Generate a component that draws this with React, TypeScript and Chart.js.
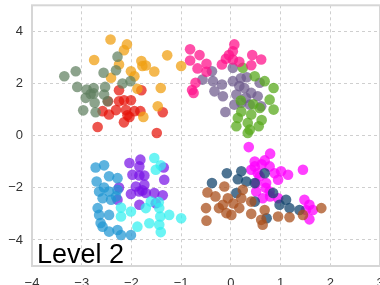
import React, { useEffect, useRef } from "react";
import { Chart, registerables } from "chart.js";

Chart.register(...registerables);

type P = [number, number];

const xTicks = [-4, -3, -2, -1, 0, 1, 2, 3];
const yTicks = [-4, -2, 0, 2, 4];
const panelLabel = "Level 2";

const grayGreenPts: P[] = [
  [-3.35, 2.28], [-3.12, 2.47], [-2.28, 3.03], [-2.31, 2.51], [-2.56, 2.41], [-2.02, 2.09],
  [-2.18, 2.0], [-3.09, 1.87], [-2.9, 1.77], [-2.76, 1.83], [-2.53, 1.87], [-2.92, 1.45],
  [-2.76, 1.62], [-2.55, 1.58], [-2.74, 1.26], [-2.48, 1.32], [-2.97, 0.97], [-2.72, 0.9],
  [-2.82, 1.6],
];
const orangePts: P[] = [
  [-2.42, 3.69], [-2.09, 3.5], [-2.15, 3.28], [-2.75, 2.9], [-2.25, 2.73], [-1.8, 2.86],
  [-1.78, 2.67], [-1.71, 2.69], [-1.28, 3.08], [-1.54, 2.46], [-2.01, 2.47], [-1.94, 2.28],
  [-2.41, 2.22], [-1.41, 1.83], [-1.88, 1.8], [-1.47, 1.13], [-1.76, 0.72], [-1.0, 2.67],
];
const redPts: P[] = [
  [-2.25, 1.74], [-1.8, 1.74], [-2.47, 1.32], [-2.25, 1.32], [-2.15, 1.36], [-2.01, 1.36],
  [-2.58, 0.94], [-2.45, 0.81], [-2.31, 0.98], [-2.11, 0.98], [-1.94, 0.94], [-2.04, 0.72],
  [-1.82, 0.94], [-1.37, 0.9], [-2.15, 0.51], [-2.68, 0.33], [-1.49, 0.1], [-2.08, 0.78],
];
const pinkPts: P[] = [
  [-0.82, 3.31], [-0.63, 3.09], [-0.82, 2.88], [-0.49, 2.76], [-0.67, 2.58], [-0.49, 2.45],
  [-0.71, 2.03], [-0.75, 1.64], [0.07, 3.5], [0.04, 3.24], [-0.04, 3.09], [0.04, 2.92],
  [-0.18, 2.73], [0.17, 2.83], [0.43, 3.09], [0.61, 2.92], [0.41, 2.7], [-0.1, 2.95], [-0.78, 1.75],
];
const greenPts: P[] = [
  [0.24, 2.6], [0.48, 2.28], [0.68, 2.09], [0.86, 1.83], [0.78, 1.38], [0.86, 1.0],
  [0.58, 1.06], [0.41, 0.81], [0.14, 0.68], [0.34, 0.49], [0.56, 0.36], [0.11, 0.36],
  [0.38, 0.23], [0.21, 0.93], [0.34, 0.1], [0.62, 0.6], [0.45, 1.2], [0.2, 1.35],
];
const purpleGrayPts: P[] = [
  [-0.38, 2.47], [-0.57, 2.15], [-0.36, 2.09], [-0.18, 1.96], [-0.33, 1.7], [-0.16, 1.51],
  [-0.11, 0.91], [0.04, 2.09], [0.17, 1.9], [0.32, 2.24], [0.27, 1.83], [0.41, 1.64],
  [0.11, 1.58], [0.21, 1.26], [0.38, 1.19], [0.58, 2.03], [0.54, 1.51], [0.04, 2.6],
  [0.07, 1.19], [0.61, 1.13], [0.2, 2.2], [0.3, 1.45],
];
const lightBluePts: P[] = [
  [-2.72, -1.22], [-2.55, -1.14], [-2.45, -1.56], [-2.28, -1.63], [-2.7, -1.76], [-2.55, -1.99],
  [-2.65, -2.14], [-2.45, -2.14], [-2.28, -2.08], [-2.58, -2.4], [-2.41, -2.46], [-2.68, -2.78],
  [-2.65, -3.04], [-2.45, -3.04], [-2.58, -3.49], [-2.45, -3.68], [-2.28, -3.62], [-2.21, -3.81],
  [-2.01, -3.81], [-2.31, -2.33], [-2.62, -3.35],
];
const cyanPts: P[] = [
  [-1.54, -0.86], [-1.51, -1.31], [-1.41, -1.14], [-2.21, -2.76], [-2.01, -2.91], [-2.21, -3.1],
  [-1.71, -2.78], [-1.44, -2.78], [-1.42, -3.1], [-1.24, -3.04], [-1.0, -3.17], [-1.64, -3.36],
  [-1.44, -3.42], [-1.88, -3.49], [-1.41, -3.7], [-1.61, -2.53], [-1.45, -2.55],
];
const violetPts: P[] = [
  [-2.04, -1.05], [-1.82, -0.92], [-1.84, -1.18], [-1.35, -1.22], [-1.98, -1.5], [-1.84, -1.53],
  [-1.74, -1.53], [-1.34, -1.69], [-2.25, -1.99], [-2.01, -2.24], [-1.84, -2.14], [-1.71, -2.2],
  [-1.54, -2.2], [-1.37, -2.29], [-2.28, -2.46], [-1.84, -2.65], [-1.51, -2.59], [-1.91, -1.95],
  [-1.74, -1.88], [-1.78, -2.1],
];
const brownPts: P[] = [
  [-0.47, -2.18], [-0.31, -2.33], [-0.13, -1.95], [-0.5, -2.78], [-0.24, -2.78], [-0.16, -2.65],
  [-0.49, -3.26], [-0.09, -2.97], [0.01, -3.04], [0.17, -2.78], [0.21, -2.4], [-0.06, -2.4],
  [0.41, -3.0], [0.68, -2.85], [0.61, -3.23], [0.64, -3.42], [0.95, -3.1], [1.18, -3.13],
  [1.82, -2.78], [1.45, -3.04], [0.24, -2.08], [0.41, -2.53], [0.05, -2.6],
];
const navyPts: P[] = [
  [-0.38, -1.82], [-0.08, -1.44], [0.21, -1.37], [0.14, -1.67], [0.31, -1.76], [0.11, -2.2],
  [0.48, -2.53], [0.72, -3.17], [0.98, -2.65], [1.11, -2.46], [1.18, -2.78], [1.38, -2.85],
  [0.85, -2.2], [0.68, -1.44], [0.48, -1.82],
];
const magentaPts: P[] = [
  [0.36, -0.44], [0.79, -0.69], [0.48, -0.99], [0.68, -0.95], [0.48, -1.18], [0.78, -1.18],
  [0.54, -1.44], [0.88, -1.44], [1.01, -1.37], [1.15, -1.5], [0.95, -1.69], [1.45, -1.31],
  [0.51, -1.82], [0.71, -1.82], [0.51, -2.14], [0.78, -2.14], [0.64, -2.4], [0.79, -2.33],
  [0.95, -2.4], [1.48, -2.46], [1.58, -2.65], [1.51, -2.85], [1.65, -2.85], [1.58, -3.21],
  [0.58, -1.56], [0.41, -1.31], [0.62, -1.1], [0.7, -2.0],
];

const clusters: { pts: P[]; color: string }[] = [
  { pts: grayGreenPts, color: "rgba(95,128,95,0.72)" },
  { pts: orangePts, color: "rgba(240,160,20,0.75)" },
  { pts: redPts, color: "rgba(230,20,10,0.72)" },
  { pts: pinkPts, color: "rgba(255,20,140,0.75)" },
  { pts: greenPts, color: "rgba(90,170,30,0.75)" },
  { pts: purpleGrayPts, color: "rgba(110,90,140,0.72)" },
  { pts: lightBluePts, color: "rgba(30,150,210,0.72)" },
  { pts: cyanPts, color: "rgba(50,240,240,0.72)" },
  { pts: violetPts, color: "rgba(120,20,230,0.72)" },
  { pts: brownPts, color: "rgba(170,80,30,0.75)" },
  { pts: navyPts, color: "rgba(20,70,110,0.75)" },
  { pts: magentaPts, color: "rgba(255,0,255,0.75)" },
];

const fmt = (v: number) => String(v).replace("-", "\u2212");

export default function App() {
  const ref = useRef<HTMLCanvasElement | null>(null);
  useEffect(() => {
    if (!ref.current) return;
    const framePlugin = {
      id: "frame",
      afterDatasetsDraw(chart: any) {
        const { ctx, chartArea } = chart;
        ctx.save();
        ctx.strokeStyle = "#d6d6d6";
        ctx.lineWidth = 2;
        ctx.strokeRect(chartArea.left, chartArea.top, chartArea.right - chartArea.left, chartArea.bottom - chartArea.top);
        ctx.fillStyle = "#000";
        ctx.font = "27px 'Liberation Sans', Arial, sans-serif";
        ctx.textBaseline = "alphabetic";
        ctx.textAlign = "left";
        ctx.fillText(panelLabel, chartArea.left + 5, chartArea.bottom - 3);
        ctx.restore();
      },
    };
    const chart = new Chart(ref.current, {
      type: "scatter",
      data: {
        datasets: clusters.map((c) => ({
          data: c.pts.map(([x, y]) => ({ x, y })),
          backgroundColor: c.color,
          borderWidth: 0,
          pointRadius: 5.3,
          pointHoverRadius: 5.3,
        })),
      },
      options: {
        animation: false,
        responsive: false,
        maintainAspectRatio: false,
        layout: { padding: { top: 5, right: 20, left: 0, bottom: 0 } },
        plugins: { legend: { display: false }, tooltip: { enabled: false } },
        scales: {
          x: {
            type: "linear",
            min: -4,
            max: 3,
            afterBuildTicks: (s: any) => { s.ticks = xTicks.map((v) => ({ value: v })); },
            afterFit: (s: any) => { s.height = 34; s.paddingLeft = 0; s.paddingRight = 0; },
            grid: { color: "#cfcfcf", lineWidth: 1, drawTicks: false },
            border: { display: false, dash: [3, 3] },
            ticks: {
              padding: 10,
              color: "#333",
              font: { size: 13, family: "'Liberation Sans', Arial, sans-serif" },
              callback: (v: any) => fmt(Number(v)),
              maxRotation: 0,
              autoSkip: false,
            },
          },
          y: {
            type: "linear",
            min: -5,
            max: 5,
            afterBuildTicks: (s: any) => { s.ticks = yTicks.map((v) => ({ value: v })); },
            afterFit: (s: any) => { s.width = 32; s.paddingTop = 0; s.paddingBottom = 0; },
            grid: { color: "#cfcfcf", lineWidth: 1, drawTicks: false },
            border: { display: false, dash: [3, 3] },
            ticks: {
              padding: 9,
              color: "#333",
              font: { size: 13, family: "'Liberation Sans', Arial, sans-serif" },
              callback: (v: any) => fmt(Number(v)),
            },
          },
        },
      },
      plugins: [framePlugin],
    } as any);
    return () => chart.destroy();
  }, []);
  return (
    <div style={{ position: "fixed", left: 0, top: 0, width: 400, height: 300, background: "#fff" }}>
      <canvas ref={ref} width={400} height={300} style={{ display: "block" }} />
    </div>
  );
}
